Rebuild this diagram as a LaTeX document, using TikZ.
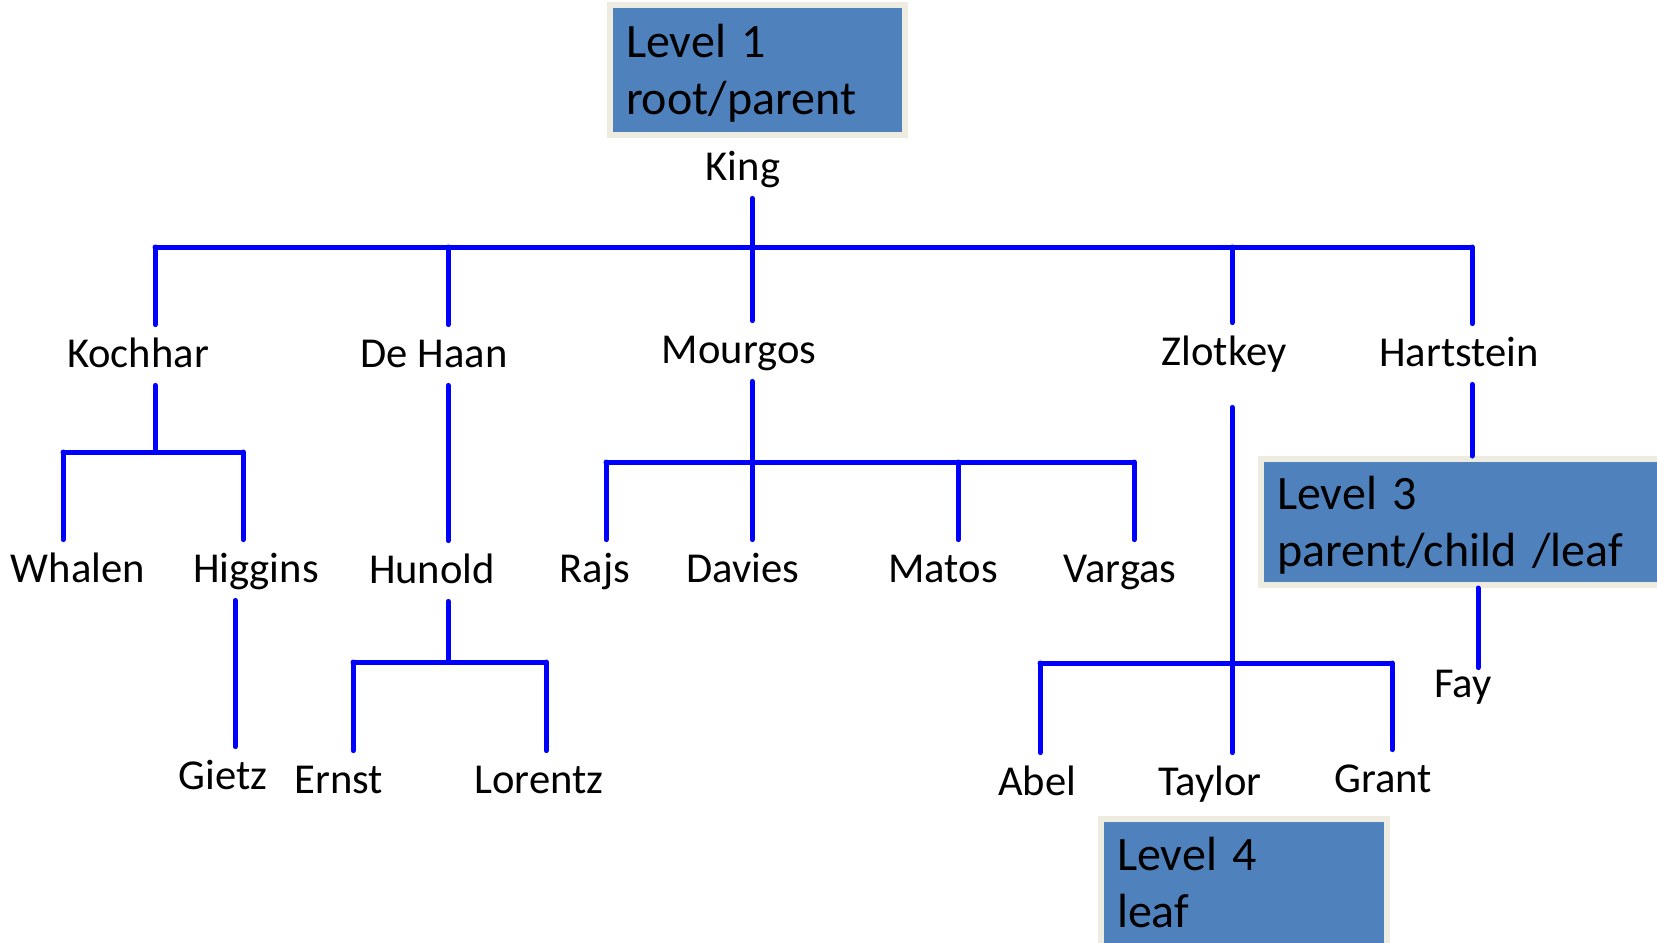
\documentclass[tikz,border=0pt]{standalone}
\usepackage{fontspec}
\setmainfont{Carlito}
\definecolor{treeblue}{HTML}{0000FF}
\definecolor{boxblue}{HTML}{4F81BD}
\definecolor{boxedge}{HTML}{EEECE1}
\tikzset{
  emp/.style={font=\fontsize{21.3}{25}\selectfont, anchor=base, inner sep=0pt, text height=21pt, text depth=9pt},
  branch/.style={draw=treeblue, line width=2.5pt, line cap=round, line join=round},
  levelbox/.style={draw=boxedge, fill=boxblue, line width=3pt, anchor=base west, align=left,
    font=\fontsize{24}{28.5}\selectfont, inner xsep=8pt, inner ysep=0pt, text height=25.5pt}
}
\begin{document}
\begin{tikzpicture}[x=0.5pt,y=-0.5pt]
\useasboundingbox (0,0) rectangle (1657,942);
\node[levelbox, text height=26pt, text depth=39pt, text width=131.5pt] (lvlone) at (607,57) {Level 1\\root/parent};
\node[levelbox, text height=25pt, text depth=38pt, text width=185pt] (lvlthree) at (1258,509) {Level 3\\parent/child /leaf};
\node[levelbox, text depth=47.5pt, text width=127pt] (lvlfour) at (1098,870) {Level 4\\leaf};
\node[emp] (king) at (743,180) {King};
\node[emp] (kochhar) at (138,367) {Kochhar};
\node[emp] (dehaan) at (434,367) {De Haan};
\node[emp] (mourgos) at (739,363) {Mourgos};
\node[emp] (zlotkey) at (1224,365) {Zlotkey};
\node[emp] (hartstein) at (1459,366) {Hartstein};
\node[emp] (whalen) at (78,582) {Whalen};
\node[emp] (higgins) at (256,582) {Higgins};
\node[emp] (hunold) at (432,583) {Hunold};
\node[emp] (rajs) at (595,582) {Rajs};
\node[emp] (davies) at (743,582) {Davies};
\node[emp] (matos) at (943,582) {Matos};
\node[emp] (vargas) at (1120,582) {Vargas};
\node[emp] (fay) at (1463,697) {Fay};
\node[emp] (gietz) at (223,789) {Gietz};
\node[emp] (ernst) at (339,793) {Ernst};
\node[emp] (lorentz) at (539,793) {Lorentz};
\node[emp] (abel) at (1037,795) {Abel};
\node[emp] (taylor) at (1210,795) {Taylor};
\node[emp] (grant) at (1383,792) {Grant};
\coordinate (topa) at (155,247);
\coordinate (topb) at (448,247);
\coordinate (topc) at (752,247);
\coordinate (topd) at (1232,247);
\coordinate (tope) at (1472,247);
\draw[branch] (king.south -| topc) to (topc);
\draw[branch] (topa) to (tope);
\foreach \j/\n in {a/kochhar,b/dehaan,c/mourgos,d/zlotkey,e/hartstein}
{
  \draw[branch] (top\j) to (\n.north -| top\j);
}
\coordinate (ka) at (63,452);
\coordinate (kb) at (155,452);
\coordinate (kc) at (243,452);
\draw[branch] (kochhar.south -| kb) to (kb);
\draw[branch] (ka) to (kc);
\draw[branch] (ka) to (whalen.north -| ka);
\draw[branch] (kc) to (higgins.north -| kc);
\coordinate (gtop) at ([xshift=6pt]gietz.north);
\draw[branch] (higgins.south -| gtop) to (gtop);
\draw[branch] (dehaan.south -| topb) to (hunold.north -| topb);
\coordinate (ha) at (353,662);
\coordinate (hb) at (448,662);
\coordinate (hc) at (546,662);
\draw[branch] (hunold.south -| hb) to (hb);
\draw[branch] (ha) to (hc);
\draw[branch] (ha) to (ernst.north -| ha);
\draw[branch] (hc) to (lorentz.north -| hc);
\coordinate (ma) at (606,462);
\coordinate (mb) at (752,462);
\coordinate (mc) at (958,462);
\coordinate (md) at (1134,462);
\draw[branch] (mourgos.south -| mb) to (davies.north -| mb);
\draw[branch] (ma) to (md);
\foreach \j/\n in {a/rajs,c/matos,d/vargas}
{
  \draw[branch] (m\j) to (\n.north -| m\j);
}
\coordinate (za) at (1040,663);
\coordinate (zb) at (1232,663);
\coordinate (zc) at (1392,663);
\draw[branch, shorten <=12pt] (zlotkey.south -| zb) to (taylor.north -| zb);
\draw[branch] (za) to (zc);
\draw[branch] (za) to (abel.north -| za);
\draw[branch] (zc) to (grant.north -| zc);
\draw[branch] (hartstein.south -| tope) to (lvlthree.north -| tope);
\coordinate (faytop) at ([xshift=7.5pt]fay.north);
\draw[branch, shorten >=-6.5pt] (lvlthree.south -| faytop) to (faytop);
\end{tikzpicture}
\end{document}
